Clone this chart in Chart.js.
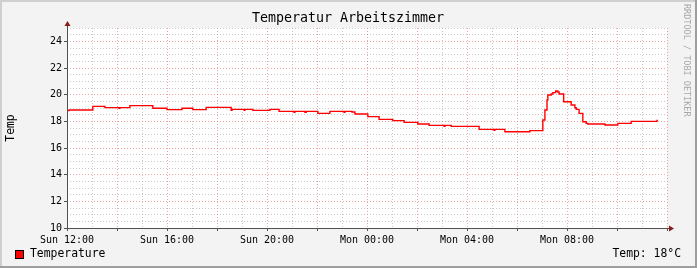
<!DOCTYPE html>
<html>
<head>
<meta charset="utf-8">
<script src="https://cdn.jsdelivr.net/npm/chart.js@4/dist/chart.umd.min.js"></script>
<style>
  html, body { margin: 0; padding: 0; background: #f3f3f3; }
  #wrap { width: 697px; height: 268px; }
</style>
</head>
<body>
<div id="wrap"><canvas id="chart" width="697" height="268"></canvas></div>
<script>
// temperature log (step changes)
const times = ['Sun 11:36','Sun 11:41','Sun 12:38','Sun 13:07','Sun 13:41','Sun 13:43','Sun 14:07','Sun 15:02','Sun 15:36','Sun 16:12',
  'Sun 16:38','Sun 17:10','Sun 18:10','Sun 18:12','Sun 18:41','Sun 18:43','Sun 19:02','Sun 19:43','Sun 20:05','Sun 20:41',
  'Sun 20:43','Sun 21:07','Sun 21:10','Sun 21:38','Sun 22:07','Sun 22:41','Sun 22:43','Sun 23:00','Sun 23:07','Sun 23:38',
  'Mon 00:05','Mon 00:38','Mon 01:05','Mon 01:38','Mon 02:05','Mon 02:41','Mon 02:43','Mon 02:58','Mon 04:05','Mon 04:41',
  'Mon 04:43','Mon 05:07','Mon 06:07','Mon 06:38','Mon 06:43','Mon 06:48','Mon 06:50','Mon 06:58','Mon 07:02','Mon 07:09',
  'Mon 07:14','Mon 07:17','Mon 07:28','Mon 07:46','Mon 07:55','Mon 07:58','Mon 08:05','Mon 08:14','Mon 08:22','Mon 08:26',
  'Mon 09:07','Mon 09:38','Mon 10:10','Mon 11:12','Mon 11:14'];
const temps = [18.8, 18.85, 19.12, 19.03, 18.97, 19.03, 19.18, 18.98, 18.88, 18.98,
  18.88, 19.05, 18.82, 18.9, 18.82, 18.9, 18.82, 18.9, 18.75, 18.68,
  18.75, 18.68, 18.75, 18.6, 18.75, 18.68, 18.75, 18.7, 18.55, 18.35,
  18.15, 18.05, 17.92, 17.8, 17.7, 17.62, 17.7, 17.62, 17.4, 17.33,
  17.4, 17.22, 17.3, 18.1, 18.85, 19.6, 19.97, 20.05, 20.15, 20.27,
  20.2, 20.05, 19.47, 19.22, 19.02, 18.9, 18.6, 17.97, 17.85, 17.8,
  17.72, 17.85, 18.0, 18.07, 18.07];

const xTickLabels = ['Sun 12:00', 'Sun 16:00', 'Sun 20:00', 'Mon 00:00', 'Mon 04:00', 'Mon 08:00'];
const yTickLabels = ['10', '12', '14', '16', '18', '20', '22', '24'];

const title = 'Temperatur Arbeitszimmer';
const yTitle = 'Temp';
const legendText = 'Temperature';
const currentText = 'Temp: 18°C';
const watermark = 'RRDTOOL / TOBI OETIKER';

const MONO = '"DejaVu Sans Mono", "Liberation Mono", monospace';
const MAJOR = 'rgba(225, 90, 90, 0.55)';
const MINOR = 'rgba(150, 150, 150, 0.5)';

// 'Mon 04:05' -> hours since Sunday 00:00
const toHours = s => {
    const [day, hm] = s.split(' ');
    const [h, m] = hm.split(':').map(Number);
    return (day === 'Mon' ? 24 : 0) + h + m / 60;
};
const xLabelAt = {};
xTickLabels.forEach(l => xLabelAt[Math.round(toHours(l))] = l);

const points = times.map((t, i) => ({ x: toHours(t), y: temps[i] }));

const rrdDecor = {
    id: 'rrdDecor',
    beforeDraw(chart) {
        const { ctx, chartArea: a } = chart;
        ctx.save();
        ctx.fillStyle = '#f3f3f3';
        ctx.fillRect(0, 0, chart.width, chart.height);
        ctx.fillStyle = '#ffffff';
        ctx.fillRect(a.left, a.top, a.right - a.left, a.bottom - a.top);
        ctx.restore();
    },
    afterDraw(chart) {
        const { ctx, chartArea: a } = chart;
        const W = chart.width, H = chart.height;
        ctx.save();

        // axes + arrows
        ctx.strokeStyle = '#505050';
        ctx.lineWidth = 1;
        ctx.beginPath();
        ctx.moveTo(a.left + 0.5, a.bottom + 2);
        ctx.lineTo(a.left + 0.5, a.top - 4);
        ctx.moveTo(a.left - 2, a.bottom + 0.5);
        ctx.lineTo(a.right + 3, a.bottom + 0.5);
        ctx.stroke();
        ctx.fillStyle = '#8b1a1a';
        ctx.beginPath();
        ctx.moveTo(a.left + 0.5, a.top - 7);
        ctx.lineTo(a.left - 2.5, a.top - 2);
        ctx.lineTo(a.left + 3.5, a.top - 2);
        ctx.closePath();
        ctx.fill();
        ctx.beginPath();
        ctx.moveTo(a.right + 7, a.bottom + 0.5);
        ctx.lineTo(a.right + 2, a.bottom - 2.5);
        ctx.lineTo(a.right + 2, a.bottom + 3.5);
        ctx.closePath();
        ctx.fill();

        // title
        ctx.fillStyle = '#000';
        ctx.font = '13.3px ' + MONO;
        ctx.textAlign = 'center';
        ctx.textBaseline = 'middle';
        ctx.fillText(title, 348, 19);

        // vertical axis title
        ctx.font = '11.4px ' + MONO;
        ctx.save();
        ctx.translate(11, 128);
        ctx.rotate(-Math.PI / 2);
        ctx.fillText(yTitle, 0, 0);
        ctx.restore();

        // legend
        ctx.fillStyle = '#ff0000';
        ctx.fillRect(15, 250, 8, 8);
        ctx.strokeStyle = '#000';
        ctx.strokeRect(15.5, 250.5, 8, 8);
        ctx.fillStyle = '#000';
        ctx.textAlign = 'left';
        ctx.fillText(legendText, 30, 254.5);
        ctx.textAlign = 'right';
        ctx.fillText(currentText, 681, 254.5);

        // watermark
        ctx.fillStyle = '#a8a8a8';
        ctx.font = '8.5px ' + MONO;
        ctx.save();
        ctx.translate(686, 4);
        ctx.rotate(Math.PI / 2);
        ctx.textAlign = 'left';
        ctx.textBaseline = 'middle';
        ctx.fillText(watermark, 0, 0);
        ctx.restore();

        // 3d frame
        ctx.fillStyle = '#cfcfcf';
        ctx.fillRect(0, 0, W, 2);
        ctx.fillRect(0, 0, 2, H);
        ctx.fillStyle = '#9e9e9e';
        ctx.fillRect(W - 2, 0, 2, H);
        ctx.fillRect(0, H - 2, W, 2);
        ctx.restore();
    }
};

const isMajorY = v => Math.abs(v - Math.round(v / 2) * 2) < 1e-6;

new Chart(document.getElementById('chart'), {
    type: 'line',
    data: {
        datasets: [{
            label: legendText,
            data: points,
            stepped: true,
            borderColor: '#ff0000',
            borderWidth: 1.4,
            pointRadius: 0,
            fill: false
        }]
    },
    options: {
        responsive: false,
        animation: false,
        devicePixelRatio: 1,
        layout: { padding: { left: 0, top: 28, right: 30, bottom: 0 } },
        plugins: { legend: { display: false }, tooltip: { enabled: false }, title: { display: false } },
        scales: {
            x: {
                type: 'linear',
                min: toHours('Sun 11:36'),
                max: toHours('Mon 11:36'),
                afterFit: s => { s.height = 40; },
                ticks: {
                    stepSize: 1,
                    includeBounds: false,
                    autoSkip: false,
                    maxRotation: 0,
                    padding: 3,
                    color: '#000',
                    font: { family: MONO, size: 10 },
                    callback: v => xLabelAt[Math.round(v)] || ''
                },
                grid: {
                    color: c => (Math.round(c.tick.value) % 2 === 0 ? MAJOR : MINOR),
                    tickColor: c => (Math.round(c.tick.value) % 2 === 0 ? '#505050' : 'rgba(0,0,0,0)'),
                    tickLength: 3,
                    lineWidth: 1
                },
                border: { display: false, dash: [1, 2] }
            },
            y: {
                min: 10,
                max: 25,
                afterFit: s => { s.width = 67; },
                ticks: {
                    stepSize: 0.5,
                    autoSkip: false,
                    padding: 2,
                    color: '#000',
                    font: { family: MONO, size: 10 },
                    callback: v => (isMajorY(v) && yTickLabels.includes(String(v)) ? String(v) : '')
                },
                grid: {
                    color: c => (isMajorY(c.tick.value) ? MAJOR : MINOR),
                    tickColor: c => (isMajorY(c.tick.value) ? '#505050' : 'rgba(0,0,0,0)'),
                    tickLength: 3,
                    lineWidth: 1
                },
                border: { display: false, dash: [1, 2] }
            }
        }
    },
    plugins: [rrdDecor]
});
</script>
</body>
</html>
